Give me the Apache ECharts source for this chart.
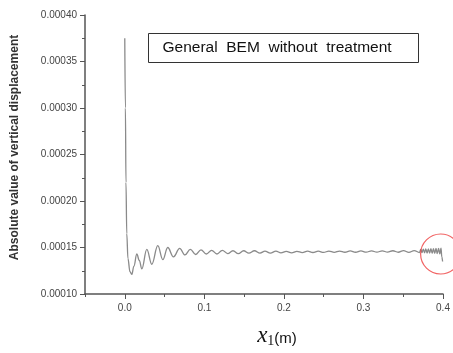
<!DOCTYPE html>
<html><head><meta charset="utf-8">
<script src="https://cdn.jsdelivr.net/npm/echarts@6/dist/echarts.min.js"></script>
<style>html,body{margin:0;padding:0;background:#fff}#c{width:453px;height:353px}</style>
</head><body><div id="c"></div>
<script>
// x positions (m)
const xs = [
  0.000, 0.0008, 0.0015, 0.0025, 0.004, 0.0065, 0.0088, 0.0115, 0.0151, 0.0183,
  0.0214, 0.0277, 0.034, 0.0415, 0.0478, 0.054, 0.0612, 0.069,
  0.0757, 0.0824, 0.0891, 0.0958, 0.1025, 0.1092, 0.1159, 0.1226, 0.1293, 0.136,
  0.1427, 0.1494, 0.156, 0.163, 0.170, 0.1762, 0.183, 0.190, 0.1963,
  0.203, 0.2097, 0.2164, 0.2231, 0.2298, 0.2365, 0.2432, 0.2499, 0.2566, 0.2633,
  0.270, 0.2767, 0.2834, 0.2901, 0.2968, 0.3035, 0.3102, 0.3169, 0.3236, 0.3303,
  0.337, 0.3437, 0.3504, 0.3571, 0.3638, 0.3705,
  0.372, 0.3736, 0.3752, 0.3768, 0.3784, 0.380, 0.3816, 0.3832, 0.3848, 0.3864,
  0.388, 0.3896, 0.3912, 0.3928, 0.3944, 0.396, 0.3975, 0.3985, 0.3995
];
// absolute vertical displacement
const ys = [
  0.000375, 0.000300, 0.000220, 0.000165, 0.000138, 0.000124, 0.000121, 0.000130, 0.000143, 0.000136,
  0.000127, 0.000148, 0.000132, 0.000152, 0.000137, 0.000150, 0.000140, 0.000149,
  0.000142, 0.000148, 0.0001425, 0.0001475, 0.000143, 0.000147, 0.000143, 0.000147, 0.0001435, 0.0001465,
  0.0001435, 0.0001465, 0.000144, 0.0001465, 0.000144, 0.000146, 0.000144, 0.000146, 0.0001442,
  0.0001458, 0.0001443, 0.0001459, 0.0001445, 0.000146, 0.0001446, 0.0001461, 0.0001447, 0.0001462, 0.0001448,
  0.0001462, 0.0001449, 0.0001463, 0.0001449, 0.0001463, 0.000145, 0.0001464, 0.000145, 0.0001464, 0.000145,
  0.0001465, 0.0001449, 0.0001466, 0.0001448, 0.0001467, 0.0001446,
  0.000148, 0.0001445, 0.0001482, 0.0001443, 0.0001484, 0.0001441, 0.0001485, 0.000144, 0.0001487, 0.0001438,
  0.0001488, 0.0001436, 0.000149, 0.0001434, 0.0001491, 0.0001432, 0.0001492, 0.000140, 0.000135
];
const xTicks = [0.0, 0.1, 0.2, 0.3, 0.4];
const circleAt = [0.397, 0.000143];
const boxText = 'General  BEM  without  treatment';
const yName = 'Absolute value of vertical displacement';

const chart = echarts.init(document.getElementById('c'), null, {renderer: 'canvas'});
const axisColor = '#555';
const font = 'Liberation Sans, Arial, sans-serif';
chart.setOption({
  animation: false,
  backgroundColor: '#fff',
  grid: {left: 85, right: 10, top: 15, bottom: 50},
  xAxis: [{
    type: 'value', min: -0.05, max: 0.4, interval: 0.05,
    axisLine: {show: true, onZero: false, lineStyle: {color: axisColor, width: 1.5}},
    axisTick: {show: true, length: 3, lineStyle: {color: axisColor, width: 1}},
    axisLabel: {show: false},
    splitLine: {show: false},
    name: '{i|x}{s|1}{n|(m)}',
    nameLocation: 'middle', nameGap: 30,
    nameTextStyle: {
      padding: [0, 0, 0, 26],
      rich: {
        i: {fontFamily: 'Liberation Serif, serif', fontStyle: 'italic', fontSize: 23, color: '#111'},
        s: {fontFamily: 'Liberation Serif, serif', fontSize: 14, color: '#111', verticalAlign: 'bottom', padding: [10, 0, 0, 0]},
        n: {fontFamily: 'Liberation Sans, Arial, sans-serif', fontSize: 15, color: '#111', padding: [6, 0, 0, 0]}
      }
    }
  }, {
    type: 'value', min: -0.05, max: 0.4, position: 'bottom',
    axisLine: {show: false, onZero: false},
    axisTick: {show: true, length: 5, customValues: xTicks, lineStyle: {color: axisColor, width: 1}},
    axisLabel: {show: true, customValues: xTicks, margin: 9, color: '#444', fontSize: 10, fontFamily: font,
      formatter: v => v.toFixed(1)},
    splitLine: {show: false}
  }],
  yAxis: {
    type: 'value', min: 0.0001, max: 0.0004, interval: 0.00005,
    axisLine: {show: true, onZero: false, lineStyle: {color: axisColor, width: 1.5}},
    axisTick: {show: true, length: 5, lineStyle: {color: axisColor, width: 1}},
    minorTick: {show: true, splitNumber: 2, length: 3, lineStyle: {color: axisColor, width: 1}},
    axisLabel: {color: '#444', fontSize: 10, fontFamily: font, margin: 8, formatter: v => v.toFixed(5)},
    splitLine: {show: false},
    name: yName, nameLocation: 'middle', nameGap: 64,
    nameTextStyle: {color: '#333', fontSize: 12, fontWeight: 'bold', fontFamily: font, padding: [0, 0, 0, 14]}
  },
  graphic: [{
    type: 'group', left: 148, top: 33,
    children: [
      {type: 'rect', shape: {x: 0, y: 0, width: 270, height: 29}, style: {fill: '#fff', stroke: '#333', lineWidth: 1}},
      {type: 'text', x: 14, y: 14.5, style: {text: boxText, fill: '#111', fontSize: 15.5, fontFamily: font, verticalAlign: 'middle'}}
    ]
  }],
  series: [{
    type: 'line', xAxisIndex: 0,
    data: xs.map((x, i) => [x, ys[i]]),
    showSymbol: false, smooth: 0.4, smoothMonotone: 'x',
    lineStyle: {color: '#8a8a8a', width: 1.3},
    z: 3
  }, {
    type: 'scatter', xAxisIndex: 0,
    data: [circleAt],
    symbol: 'circle', symbolSize: 40,
    itemStyle: {color: 'transparent', borderColor: '#ee3b3b', borderWidth: 1.2},
    silent: true, z: 4
  }]
});
</script></body></html>
